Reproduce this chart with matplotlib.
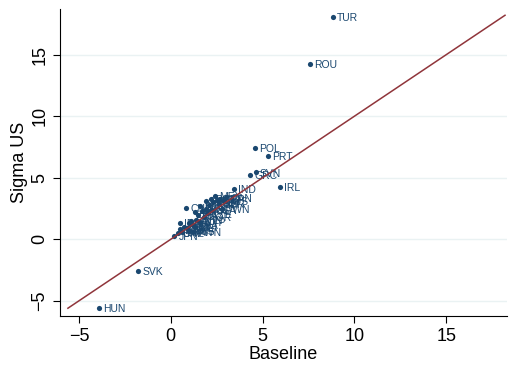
import matplotlib
matplotlib.use("Agg")
import matplotlib.pyplot as plt
import numpy as np

# country codes, baseline estimates and sigma-US estimates
codes = ["TUR", "ROU", "POL", "PRT", "SVN", "GRC", "IRL", "IND", "SVK", "HUN",
         "MEX", "CHL", "DEU", "AUT", "BEL", "CZE", "DNK", "ESP", "EST", "FIN",
         "FRA", "GBR", "ITA", "NLD", "SWE", "CHE", "NOR", "USA", "CAN", "JPN",
         "KOR", "AUS", "BRA", "CHN", "LTU", "LVA", "BGR", "HRV", "CYP", "LUX",
         "MLT", "TWN", "RUS", "IDN", "PWN"]
baseline = [8.84, 7.59, 4.59, 5.30, 4.63, 4.34, 5.95, 3.45, -1.78, -3.90,
            2.40, 0.85, 2.30, 1.30, 1.60, 2.00, 0.50, 2.70, 1.90, 1.10,
            1.20, 2.60, 1.50, 0.70, 0.90, 0.40, 1.80, 2.20, 3.00, 0.20,
            2.10, 2.90, 1.70, 1.40, 2.50, 1.00, 2.20, 1.90, 1.60, 0.60,
            1.30, 2.80, 1.00, 0.50, 1.20]
sigma_us = [18.07, 14.25, 7.45, 6.77, 5.43, 5.23, 4.23, 4.11, -2.58, -5.59,
            3.50, 2.55, 3.00, 2.20, 2.70, 2.10, 0.80, 3.30, 2.50, 1.50,
            1.20, 2.90, 2.00, 1.00, 0.90, 0.50, 1.80, 2.40, 3.40, 0.30,
            2.80, 3.10, 2.30, 1.60, 3.20, 1.30, 3.30, 3.10, 1.40, 0.60,
            1.00, 2.50, 0.70, 1.30, 0.60]
fit_x = [-5.6, 18.2]

navy = "#1a476f"
maroon = "#90353b"

plt.rcParams['font.family'] = ['Liberation Sans', 'DejaVu Sans']

fig = plt.figure(figsize=(5.13, 3.65), dpi=100)
ax = fig.add_axes([0.117, 0.134, 0.871, 0.841])

ax.plot(fit_x, fit_x, color=maroon, linewidth=1.1, zorder=3)
ax.scatter(baseline, sigma_us, s=14, color=navy, zorder=2, linewidths=0)
for c, x, y in zip(codes, baseline, sigma_us):
    ax.annotate(c, (x, y), xytext=(3, -3), textcoords="offset points",
                fontsize=7.5, color=navy, zorder=2)

ax.set_xlim(-6.03, 18.3)
ax.set_ylim(-6.24, 18.7)
ax.set_xticks([-5, 0, 5, 10, 15])
ax.set_yticks([-5, 0, 5, 10, 15])
ax.set_xticklabels(["\u22125", "0", "5", "10", "15"])
ax.set_yticklabels(["\u22125", "0", "5", "10", "15"], rotation=90, va="center")
ax.tick_params(labelsize=13, length=5, width=0.8, direction="out")
ax.yaxis.grid(True, color="#eaf2f3", linewidth=1.0)
ax.set_axisbelow(True)
ax.spines["top"].set_visible(False)
ax.spines["right"].set_visible(False)
ax.set_xlabel("Baseline", fontsize=13, labelpad=1)
ax.set_ylabel("Sigma US", fontsize=13, labelpad=2)

fig.savefig("out.png", dpi=100)
